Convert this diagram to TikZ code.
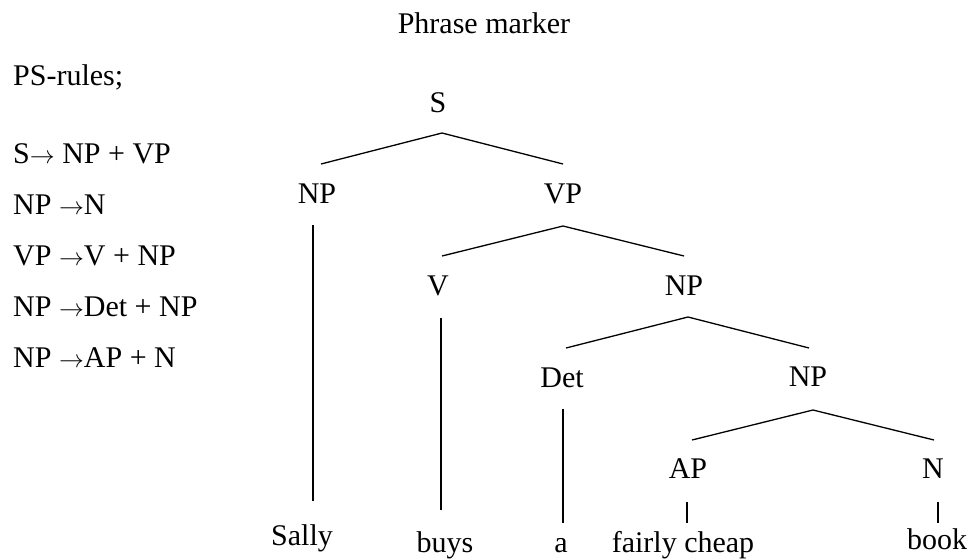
\documentclass[tikz,border=0pt]{standalone}
\usepackage{fontspec}
\setmainfont{Liberation Serif}
\newcommand{\psarrow}{$\rightarrow$}
\begin{document}
\begin{tikzpicture}[x=1pt,y=-1pt,
  lbl/.style={anchor=base, inner sep=0pt, font=\fontsize{30}{36}\selectfont},
  psrule/.style={anchor=base west, inner sep=0pt, font=\fontsize{30}{36}\selectfont},
  branch/.style={line width=1.3pt, line cap=butt}]
\useasboundingbox (0,0) rectangle (975,558);

% title and rules
\node[lbl] (title) at (484,33) {Phrase marker};
\node[psrule] (ps) at (13,85) {PS-rules;};
\node[psrule] (r1) at (13,163) {S\psarrow{} NP + VP};
\node[psrule] (r2) at (13,214) {NP \psarrow N};
\node[psrule] (r3) at (13,265) {VP \psarrow V + NP};
\node[psrule] (r4) at (13,316) {NP \psarrow Det + NP};
\node[psrule] (r5) at (13,367) {NP \psarrow AP + N};

% tree labels
\node[lbl] (S) at (438,112) {S};
\node[lbl] (NPa) at (317,203) {NP};
\node[lbl] (VP) at (563,203) {VP};
\node[lbl] (V) at (438,295) {V};
\node[lbl] (NPb) at (684,295) {NP};
\node[lbl] (Det) at (562,387) {Det};
\node[lbl] (NPc) at (808,386) {NP};
\node[lbl] (AP) at (688,478) {AP};
\node[lbl] (N) at (933,478) {N};
\node[lbl] (sally) at (302,545) {Sally};
\node[lbl] (buys) at (445,552) {buys};
\node[lbl] (a) at (561,552) {a};
\node[lbl] (cheap) at (683,552) {fairly cheap};
\node[lbl] (book) at (937,549) {book};

% branch points
\coordinate (S-a) at (442,133);
\coordinate (NPa-t) at (321,164);
\coordinate (VP-t) at (563,164);
\coordinate (VP-a) at (563,226);
\coordinate (V-t) at (442,256);
\coordinate (NPb-t) at (684,256);
\coordinate (NPb-a) at (688,317);
\coordinate (Det-t) at (566,348);
\coordinate (NPc-t) at (809,348);
\coordinate (NPc-a) at (813,410);
\coordinate (AP-t) at (692,440);
\coordinate (N-t) at (934,440);
\coordinate (NPa-b) at (313,225);
\coordinate (sally-t) at (313,501);
\coordinate (V-b) at (441,318);
\coordinate (buys-t) at (441,510);
\coordinate (Det-b) at (563,409);
\coordinate (a-t) at (563,523);
\coordinate (AP-b) at (687,502);
\coordinate (cheap-t) at (687,523);
\coordinate (N-b) at (938,502);
\coordinate (book-t) at (938,523);

\draw[branch] (NPa-t) -- (S-a) -- (VP-t);
\draw[branch] (V-t) -- (VP-a) -- (NPb-t);
\draw[branch] (Det-t) -- (NPb-a) -- (NPc-t);
\draw[branch] (AP-t) -- (NPc-a) -- (N-t);
\draw[branch] (NPa-b) -- (sally-t);
\draw[branch] (V-b) -- (buys-t);
\draw[branch] (Det-b) -- (a-t);
\draw[branch] (AP-b) -- (cheap-t);
\draw[branch] (N-b) -- (book-t);
\end{tikzpicture}
\end{document}
